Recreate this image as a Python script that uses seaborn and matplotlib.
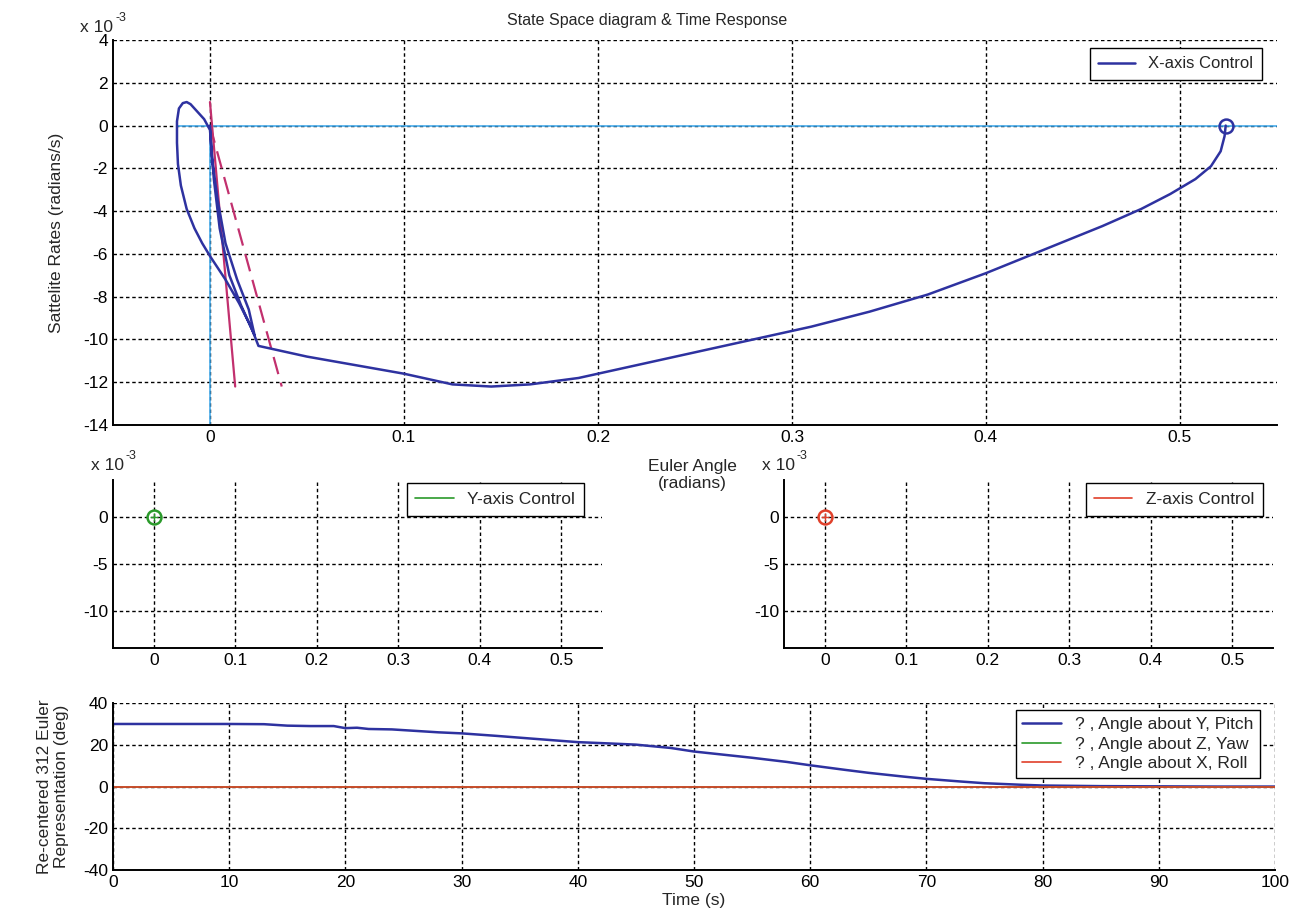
import numpy as np
import pandas as pd
import matplotlib
matplotlib.use('Agg')
import matplotlib.pyplot as plt
import seaborn as sns

# ==========================================
# DATA
# ==========================================
# X-axis phase trajectory: Euler angle (rad) vs rate (x 1e-3 rad/s)
x_angle = [0.5236, 0.523, 0.521, 0.516, 0.508, 0.495, 0.48, 0.46, 0.43, 0.40, 0.37,
           0.34, 0.31, 0.28, 0.25, 0.22, 0.19, 0.165, 0.145, 0.125, 0.10, 0.075,
           0.05, 0.03, 0.025, 0.022, 0.016, 0.010, 0.005, 0.002, 0.0, -0.003,
           -0.007, -0.010, -0.012, -0.014, -0.016, -0.017, -0.017, -0.0165, -0.015,
           -0.012, -0.008, -0.004, 0.0, 0.008, 0.015, 0.020, 0.023,
           0.020, 0.014, 0.008, 0.004, 0.001, 0.0]
x_rate = [0.0, -0.5, -1.2, -1.9, -2.5, -3.2, -3.9, -4.7, -5.8, -6.9, -7.9,
          -8.7, -9.4, -10.0, -10.6, -11.2, -11.8, -12.1, -12.2, -12.1, -11.6, -11.2,
          -10.8, -10.4, -10.3, -9.6, -8.4, -7.0, -4.8, -2.5, -0.2, 0.3,
          0.7, 1.0, 1.1, 1.05, 0.8, 0.2, -0.8, -1.8, -2.8,
          -3.9, -4.8, -5.5, -6.1, -7.2, -8.3, -9.2, -9.8,
          -8.6, -7.2, -5.5, -3.5, -1.5, 0.0]

# switching lines near the origin
sw1_angle = [0.0, 0.013]
sw1_rate = [1.1, -12.2]
sw2_angle = [0.0, 0.037]
sw2_rate = [0.0, -12.2]

# reference axes lines (light blue)
ref_h_angle = [-0.017, 0.55]
ref_h_rate = [0.0, 0.0]
ref_v_angle = [0.0, 0.0]
ref_v_rate = [0.0, -14.0]

# Y / Z axis trajectories stay at the origin
y_angle, y_rate = [0.0], [0.0]
z_angle, z_rate = [0.0], [0.0]

# time response (deg)
time_s = [0, 5, 10, 13, 15, 17, 19, 20, 21, 22, 24, 26, 28, 30, 33, 36, 40, 43, 45,
          48, 50, 53, 55, 58, 60, 63, 65, 68, 70, 73, 75, 78, 80, 85, 90, 95, 100]
pitch = [30, 30, 30, 29.9, 29.2, 29, 29, 28, 28.2, 27.6, 27.4, 26.7, 26, 25.5, 24.3,
         23, 21.3, 20.6, 20.1, 18.5, 16.8, 15.0, 13.8, 11.8, 10.2, 8.0, 6.6, 4.8,
         3.7, 2.4, 1.6, 0.9, 0.5, 0.2, 0.1, 0, 0]
yaw = [0.0] * len(time_s)
roll = [0.0] * len(time_s)

# ==========================================
# STYLE
# ==========================================
sns.set_style('white')
plt.rcParams['font.family'] = ['Liberation Sans', 'DejaVu Sans']
plt.rcParams['font.size'] = 11
plt.rcParams['axes.unicode_minus'] = False

BLUE = '#2e32a0'
LBLUE = '#3aa6ea'
GREEN = '#2a9a2a'
RED = '#e0402a'
MAG = '#c2306e'


def style_axes(ax):
    ax.grid(True, color='black', linestyle=(0, (2.5, 2)), linewidth=1.0)
    for side in ['top', 'right']:
        ax.spines[side].set_visible(False)
    for side in ['left', 'bottom']:
        ax.spines[side].set_color('black')
        ax.spines[side].set_linewidth(1.4)
    ax.tick_params(direction='in', length=5, width=1.2, labelsize=12.5, colors='black')
    ax.set_xlabel('')
    ax.set_ylabel('')


def exponent_label(ax, x, y):
    # MATLAB-like "x 10^-3" multiplier above the y axis
    ax.text(x, y, 'x 10', transform=ax.transAxes, fontsize=12.5, ha='left', va='bottom')
    ax.annotate('-3', xy=(x, y), xycoords='axes fraction', xytext=(25, 8),
                textcoords='offset points', fontsize=9, ha='left', va='bottom')


fig = plt.figure(figsize=(12.94, 9.22), dpi=100)

# ==========================================
# TOP: STATE SPACE (X-AXIS)
# ==========================================
ax1 = fig.add_axes([0.0873, 0.539, 0.8995, 0.4176])
sns.lineplot(x=ref_h_angle, y=ref_h_rate, ax=ax1, color=LBLUE, lw=1.1, sort=False, estimator=None)
sns.lineplot(x=ref_v_angle, y=ref_v_rate, ax=ax1, color=LBLUE, lw=1.1, sort=False, estimator=None)
sns.lineplot(x=sw1_angle, y=sw1_rate, ax=ax1, color=MAG, lw=1.6, sort=False, estimator=None)
sns.lineplot(x=sw2_angle, y=sw2_rate, ax=ax1, color=MAG, lw=1.6, sort=False, estimator=None,
             linestyle=(0, (8, 4)))
sns.lineplot(x=x_angle, y=x_rate, ax=ax1, color=BLUE, lw=1.8, sort=False, estimator=None,
             label='X-axis Control')
ax1.plot(x_angle[0], x_rate[0], marker='o', ms=10, mfc='none', mec=BLUE, mew=1.8)
ax1.set_xlim(-0.05, 0.55)
ax1.set_ylim(-14, 4)
ax1.set_xticks(np.arange(0, 0.51, 0.1))
ax1.set_xticklabels(['0', '0.1', '0.2', '0.3', '0.4', '0.5'])
ax1.set_yticks(np.arange(-14, 5, 2))
style_axes(ax1)
ax1.legend(loc='upper right', bbox_to_anchor=(0.987, 0.979), borderaxespad=0,
           fancybox=False, edgecolor='black', framealpha=1,
           fontsize=12, handlelength=2.2, borderpad=0.5)
exponent_label(ax1, -0.028, 1.012)
ax1.set_ylabel('Sattelite Rates (radians/s)', fontsize=12.5, labelpad=14)

fig.text(0.5, 0.978, 'State Space diagram & Time Response', ha='center', va='center', fontsize=11.5)
fig.text(0.535, 0.485, 'Euler Angle\n(radians)', ha='center', va='center', fontsize=12.5,
         linespacing=1.2)

# ==========================================
# MIDDLE: Y AND Z AXES
# ==========================================
mid = [(0.0873, y_angle, y_rate, GREEN, 'Y-axis Control', 0.963),
       (0.6059, z_angle, z_rate, RED, 'Z-axis Control', 0.98)]
for left, ang, rate, col, lab, lx in mid:
    ax = fig.add_axes([left, 0.2972, 0.378, 0.1822])
    sns.lineplot(x=[ang[0], ang[0]], y=[rate[0], rate[0]], ax=ax, color=col, lw=1.2,
                 label=lab, estimator=None)
    ax.plot(ang, rate, marker='o', ms=10, mfc='none', mec=col, mew=1.8, ls='none')
    ax.plot(ang, rate, marker='+', ms=6, color=col, mew=1, ls='none')
    ax.set_xlim(-0.05, 0.55)
    ax.set_ylim(-14, 4)
    ax.set_xticks(np.arange(0, 0.51, 0.1))
    ax.set_xticklabels(['0', '0.1', '0.2', '0.3', '0.4', '0.5'])
    ax.set_yticks([0, -5, -10])
    style_axes(ax)
    ax.legend(loc='upper right', bbox_to_anchor=(lx, 0.98), borderaxespad=0,
              fancybox=False, edgecolor='black', framealpha=1, fontsize=12.5,
              handlelength=2.2, borderpad=0.5)
    exponent_label(ax, -0.045, 1.04)

# ==========================================
# BOTTOM: TIME RESPONSE
# ==========================================
df_t = pd.DataFrame({'t': time_s, 'pitch': pitch, 'yaw': yaw, 'roll': roll})
ax3 = fig.add_axes([0.0873, 0.0564, 0.898, 0.181])
sns.lineplot(data=df_t, x='t', y='pitch', ax=ax3, color=BLUE, lw=1.8,
             label='? , Angle about Y, Pitch')
sns.lineplot(data=df_t, x='t', y='yaw', ax=ax3, color=GREEN, lw=1.2,
             label='? , Angle about Z, Yaw')
sns.lineplot(data=df_t, x='t', y='roll', ax=ax3, color=RED, lw=1.2,
             label='? , Angle about X, Roll')
ax3.set_xlim(0, 100)
ax3.set_ylim(-40, 40)
ax3.set_xticks(np.arange(0, 101, 10))
ax3.set_yticks(np.arange(-40, 41, 20))
style_axes(ax3)
ax3.legend(loc='upper right', bbox_to_anchor=(0.987, 0.958), borderaxespad=0,
           fancybox=False, edgecolor='black', framealpha=1, fontsize=12.5,
           handlelength=2.2, borderpad=0.4, labelspacing=0.25)
ax3.set_xlabel('Time (s)', fontsize=12.5, labelpad=2)
ax3.set_ylabel('Re-centered 312 Euler\nRepresentation (deg)', fontsize=12.5, labelpad=10)

plt.savefig('out.png', dpi=100)
plt.close()
